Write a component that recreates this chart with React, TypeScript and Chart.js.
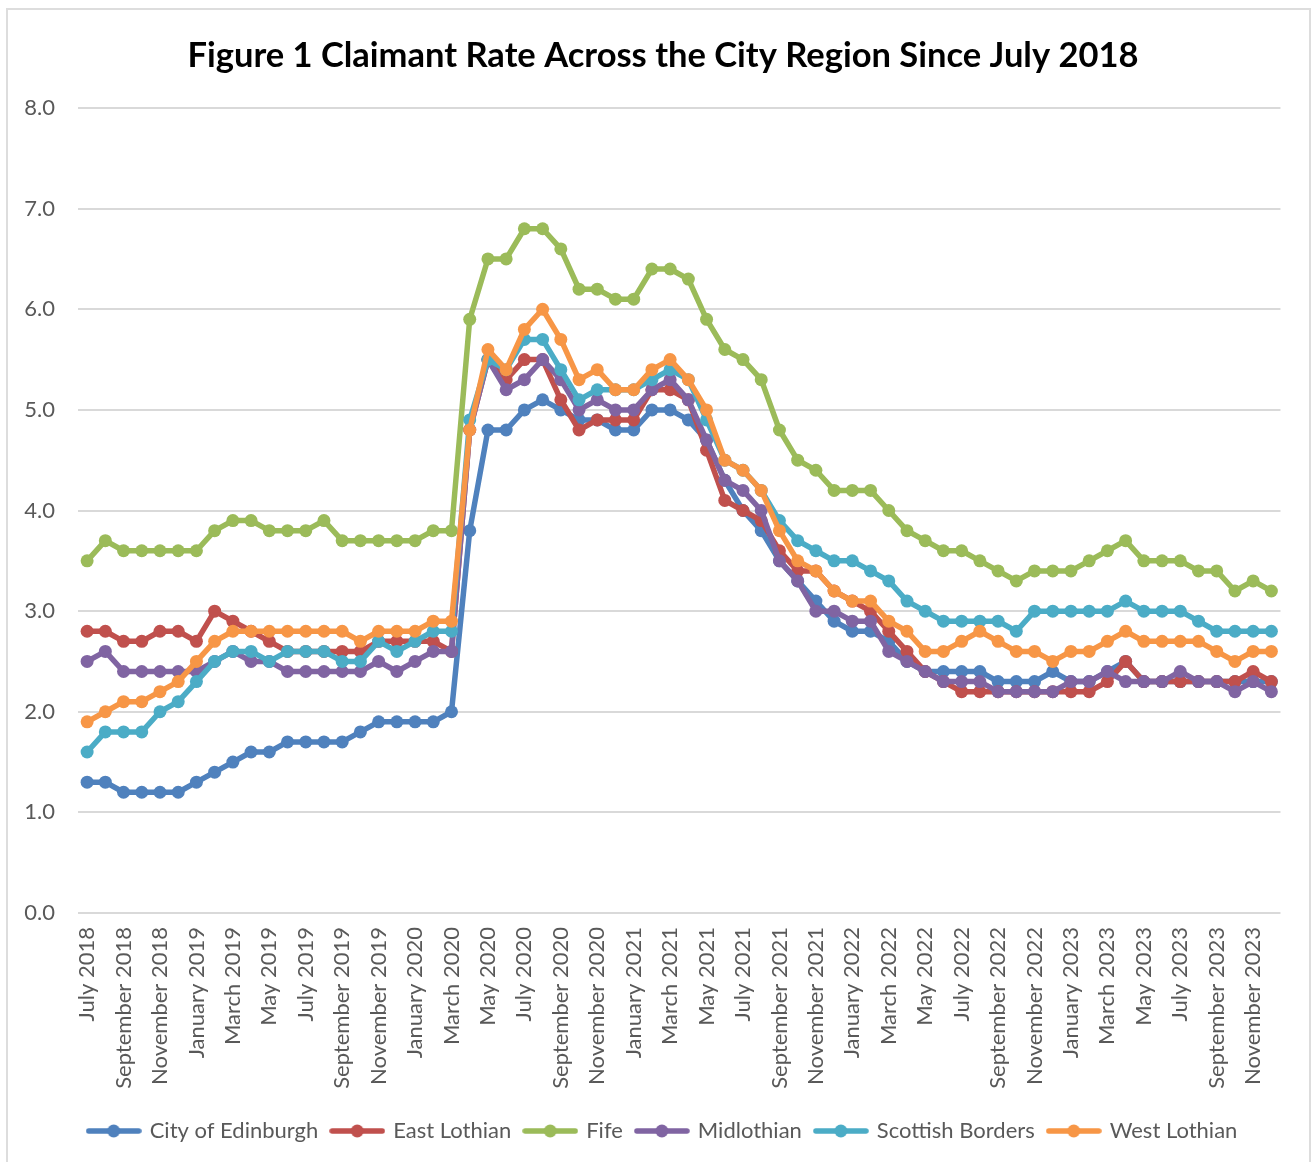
import React, { useEffect, useRef } from "react";
import { Chart, registerables } from "chart.js";

Chart.register(...registerables);

const MONTH_LABELS = [
  "July 2018", "August 2018", "September 2018", "October 2018", "November 2018", "December 2018",
  "January 2019", "February 2019", "March 2019", "April 2019", "May 2019", "June 2019",
  "July 2019", "August 2019", "September 2019", "October 2019", "November 2019", "December 2019",
  "January 2020", "February 2020", "March 2020", "April 2020", "May 2020", "June 2020",
  "July 2020", "August 2020", "September 2020", "October 2020", "November 2020", "December 2020",
  "January 2021", "February 2021", "March 2021", "April 2021", "May 2021", "June 2021",
  "July 2021", "August 2021", "September 2021", "October 2021", "November 2021", "December 2021",
  "January 2022", "February 2022", "March 2022", "April 2022", "May 2022", "June 2022",
  "July 2022", "August 2022", "September 2022", "October 2022", "November 2022", "December 2022",
  "January 2023", "February 2023", "March 2023", "April 2023", "May 2023", "June 2023",
  "July 2023", "August 2023", "September 2023", "October 2023", "November 2023", "December 2023",
];

const Y_TICKS = [0, 1, 2, 3, 4, 5, 6, 7, 8];

const CITY_OF_EDINBURGH = [
  1.3, 1.3, 1.2, 1.2, 1.2, 1.2, 1.3, 1.4, 1.5, 1.6, 1.6, 1.7,
  1.7, 1.7, 1.7, 1.8, 1.9, 1.9, 1.9, 1.9, 2.0, 3.8, 4.8, 4.8,
  5.0, 5.1, 5.0, 4.9, 4.9, 4.8, 4.8, 5.0, 5.0, 4.9, 4.7, 4.3,
  4.0, 3.8, 3.5, 3.3, 3.1, 2.9, 2.8, 2.8, 2.7, 2.5, 2.4, 2.4,
  2.4, 2.4, 2.3, 2.3, 2.3, 2.4, 2.3, 2.3, 2.4, 2.5, 2.3, 2.3,
  2.3, 2.3, 2.3, 2.3, 2.3, 2.3,
];

const EAST_LOTHIAN = [
  2.8, 2.8, 2.7, 2.7, 2.8, 2.8, 2.7, 3.0, 2.9, 2.8, 2.7, 2.6,
  2.6, 2.6, 2.6, 2.6, 2.7, 2.7, 2.7, 2.7, 2.6, 4.8, 5.5, 5.3,
  5.5, 5.5, 5.1, 4.8, 4.9, 4.9, 4.9, 5.2, 5.2, 5.1, 4.6, 4.1,
  4.0, 3.9, 3.6, 3.4, 3.4, 3.2, 3.1, 3.0, 2.8, 2.6, 2.4, 2.3,
  2.2, 2.2, 2.2, 2.2, 2.2, 2.2, 2.2, 2.2, 2.3, 2.5, 2.3, 2.3,
  2.3, 2.3, 2.3, 2.3, 2.4, 2.3,
];

const FIFE = [
  3.5, 3.7, 3.6, 3.6, 3.6, 3.6, 3.6, 3.8, 3.9, 3.9, 3.8, 3.8,
  3.8, 3.9, 3.7, 3.7, 3.7, 3.7, 3.7, 3.8, 3.8, 5.9, 6.5, 6.5,
  6.8, 6.8, 6.6, 6.2, 6.2, 6.1, 6.1, 6.4, 6.4, 6.3, 5.9, 5.6,
  5.5, 5.3, 4.8, 4.5, 4.4, 4.2, 4.2, 4.2, 4.0, 3.8, 3.7, 3.6,
  3.6, 3.5, 3.4, 3.3, 3.4, 3.4, 3.4, 3.5, 3.6, 3.7, 3.5, 3.5,
  3.5, 3.4, 3.4, 3.2, 3.3, 3.2,
];

const MIDLOTHIAN = [
  2.5, 2.6, 2.4, 2.4, 2.4, 2.4, 2.4, 2.5, 2.6, 2.5, 2.5, 2.4,
  2.4, 2.4, 2.4, 2.4, 2.5, 2.4, 2.5, 2.6, 2.6, 4.8, 5.5, 5.2,
  5.3, 5.5, 5.3, 5.0, 5.1, 5.0, 5.0, 5.2, 5.3, 5.1, 4.7, 4.3,
  4.2, 4.0, 3.5, 3.3, 3.0, 3.0, 2.9, 2.9, 2.6, 2.5, 2.4, 2.3,
  2.3, 2.3, 2.2, 2.2, 2.2, 2.2, 2.3, 2.3, 2.4, 2.3, 2.3, 2.3,
  2.4, 2.3, 2.3, 2.2, 2.3, 2.2,
];

const SCOTTISH_BORDERS = [
  1.6, 1.8, 1.8, 1.8, 2.0, 2.1, 2.3, 2.5, 2.6, 2.6, 2.5, 2.6,
  2.6, 2.6, 2.5, 2.5, 2.7, 2.6, 2.7, 2.8, 2.8, 4.9, 5.5, 5.4,
  5.7, 5.7, 5.4, 5.1, 5.2, 5.2, 5.2, 5.3, 5.4, 5.3, 4.9, 4.5,
  4.4, 4.2, 3.9, 3.7, 3.6, 3.5, 3.5, 3.4, 3.3, 3.1, 3.0, 2.9,
  2.9, 2.9, 2.9, 2.8, 3.0, 3.0, 3.0, 3.0, 3.0, 3.1, 3.0, 3.0,
  3.0, 2.9, 2.8, 2.8, 2.8, 2.8,
];

const WEST_LOTHIAN = [
  1.9, 2.0, 2.1, 2.1, 2.2, 2.3, 2.5, 2.7, 2.8, 2.8, 2.8, 2.8,
  2.8, 2.8, 2.8, 2.7, 2.8, 2.8, 2.8, 2.9, 2.9, 4.8, 5.6, 5.4,
  5.8, 6.0, 5.7, 5.3, 5.4, 5.2, 5.2, 5.4, 5.5, 5.3, 5.0, 4.5,
  4.4, 4.2, 3.8, 3.5, 3.4, 3.2, 3.1, 3.1, 2.9, 2.8, 2.6, 2.6,
  2.7, 2.8, 2.7, 2.6, 2.6, 2.5, 2.6, 2.6, 2.7, 2.8, 2.7, 2.7,
  2.7, 2.7, 2.6, 2.5, 2.6, 2.6,
];

const SERIES_NAMES = [
  "City of Edinburgh",
  "East Lothian",
  "Fife",
  "Midlothian",
  "Scottish Borders",
  "West Lothian",
];
const SERIES_VALUES = [
  CITY_OF_EDINBURGH,
  EAST_LOTHIAN,
  FIFE,
  MIDLOTHIAN,
  SCOTTISH_BORDERS,
  WEST_LOTHIAN,
];
const SERIES_COLORS = ["#4F81BD", "#C0504D", "#9BBB59", "#8064A2", "#4BACC6", "#F79646"];

const TITLE = "Figure 1 Claimant Rate Across the City Region Since July 2018";
const FONT = "Lato, 'Open Sans', sans-serif";
const TEXT_COLOR = "#595959";

function makeLegendMarker(color: string): HTMLCanvasElement {
  const c = document.createElement("canvas");
  c.width = 56;
  c.height = 16;
  const ctx = c.getContext("2d")!;
  ctx.strokeStyle = color;
  ctx.lineWidth = 5.5;
  ctx.lineCap = "round";
  ctx.beginPath();
  ctx.moveTo(3, 8);
  ctx.lineTo(53, 8);
  ctx.stroke();
  ctx.fillStyle = color;
  ctx.beginPath();
  ctx.arc(28, 8, 6.5, 0, Math.PI * 2);
  ctx.fill();
  return c;
}

export default function App() {
  const canvasRef = useRef<HTMLCanvasElement | null>(null);

  useEffect(() => {
    if (!canvasRef.current) return;
    const markers = SERIES_COLORS.map(makeLegendMarker);
    const chart = new Chart(canvasRef.current, {
      type: "line",
      data: {
        labels: MONTH_LABELS,
        datasets: SERIES_NAMES.map((name, i) => ({
          label: name,
          data: SERIES_VALUES[i],
          yAxisID: "y",
          borderColor: SERIES_COLORS[i],
          backgroundColor: SERIES_COLORS[i],
          pointBackgroundColor: SERIES_COLORS[i],
          pointBorderColor: SERIES_COLORS[i],
          pointBorderWidth: 0,
          pointRadius: 6.5,
          pointHoverRadius: 6.5,
          borderWidth: 5.5,
          borderCapStyle: "round" as const,
          borderJoinStyle: "round" as const,
          tension: 0,
          fill: false,
          order: SERIES_NAMES.length - i,
        })),
      },
      options: {
        animation: false,
        responsive: false,
        maintainAspectRatio: false,
        layout: { padding: { left: 20, right: 6, top: 0, bottom: 10 } },
        plugins: {
          title: {
            display: true,
            text: TITLE,
            color: "#000000",
            font: { family: FONT, size: 34.5, weight: "bold" },
            padding: { top: 35, bottom: 31.6 },
          },
          legend: {
            display: true,
            position: "bottom",
            labels: {
              color: TEXT_COLOR,
              font: { family: FONT, size: 22 },
              usePointStyle: true,
              pointStyleWidth: 50,
              padding: 14,
              generateLabels: () =>
                SERIES_NAMES.map((name, i) => ({
                  text: name,
                  fillStyle: SERIES_COLORS[i],
                  strokeStyle: SERIES_COLORS[i],
                  fontColor: TEXT_COLOR,
                  lineWidth: 0,
                  pointStyle: markers[i] as any,
                  hidden: false,
                  datasetIndex: i,
                })),
            },
          },
          tooltip: { enabled: false },
        },
        scales: {
          x: {
            offset: true,
            grid: { display: false, drawTicks: false },
            border: { display: false },
            ticks: {
              autoSkip: false,
              maxRotation: 90,
              minRotation: 90,
              padding: 14,
              color: TEXT_COLOR,
              font: { family: FONT, size: 22 },
              callback: (_v: any, idx: number) => (idx % 2 === 0 ? MONTH_LABELS[idx] : ""),
            },
            afterFit: (s: any) => {
              s.height = 193;
            },
          },
          y: {
            position: "left",
            min: Y_TICKS[0],
            max: Y_TICKS[Y_TICKS.length - 1],
            afterBuildTicks: (s: any) => {
              s.ticks = Y_TICKS.map((v) => ({ value: v }));
            },
            grid: { color: "#D9D9D9", lineWidth: 2, drawTicks: false },
            border: { display: false },
            ticks: {
              padding: 23,
              color: TEXT_COLOR,
              font: { family: FONT, size: 22 },
              callback: (v: any) => Number(v).toFixed(1),
            },
            afterFit: (s: any) => {
              s.width = 58;
            },
          },
          yRight: {
            type: "linear",
            position: "right",
            display: true,
            min: 0,
            max: 8,
            grid: { display: false, drawTicks: false },
            border: { display: false },
            ticks: { display: false },
            afterFit: (s: any) => {
              s.width = 24;
            },
          },
        },
      },
    });
    return () => chart.destroy();
  }, []);

  return (
    <div style={{ position: "absolute", left: 0, top: 0, width: 1312, height: 1162, background: "#fff", overflow: "hidden" }}>
      <canvas ref={canvasRef} width={1312} height={1162} style={{ width: 1312, height: 1162, display: "block" }} />
      <div
        style={{
          position: "absolute",
          left: 6,
          top: 8,
          width: 1305,
          height: 1154,
          boxSizing: "border-box",
          borderTop: "2px solid #DDDDDD",
          borderLeft: "2px solid #DDDDDD",
          borderRight: "2px solid #DDDDDD",
          pointerEvents: "none",
        }}
      />
    </div>
  );
}
